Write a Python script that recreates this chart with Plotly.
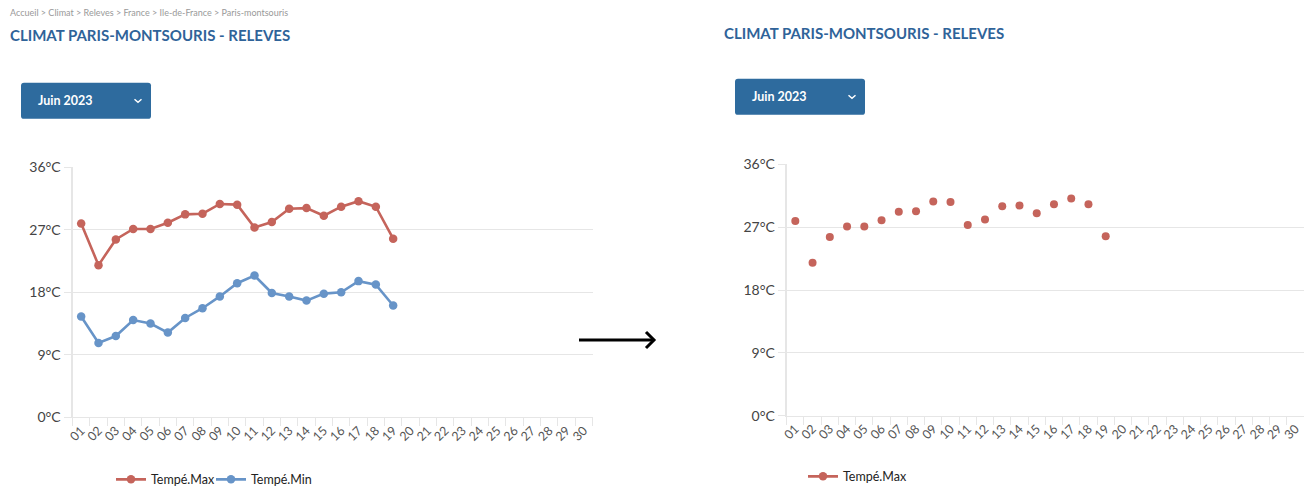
import plotly.graph_objects as go

# the page keeps the default 8px body margin; the photo crops the width and
# squeezes the full page height into the window, so positions below are
# window pixels mapped onto the figure's paper coordinates
WIN_W, WIN_H = 1312, 487
OFF = 8
FIG_W = WIN_W - OFF
SY = WIN_H / (WIN_H + 2 * OFF)

days = [f"{d:02d}" for d in range(1, 31)]
obs_days = days[:19]
t_max = [27.9, 21.9, 25.6, 27.1, 27.1, 28.0, 29.2, 29.3, 30.7, 30.6,
         27.3, 28.1, 30.0, 30.1, 29.0, 30.3, 31.1, 30.3, 25.7]
t_min = [14.5, 10.7, 11.7, 14.0, 13.5, 12.2, 14.3, 15.7, 17.4, 19.3,
         20.4, 17.9, 17.4, 16.8, 17.8, 18.0, 19.6, 19.1, 16.1]
y_ticks = [0, 9, 18, 27, 36]
y_labels = [f"{v}°C" for v in y_ticks]

RED = "#c5645b"
BLUE = "#6794c8"
DARK_BLUE = "#2f6399"
BTN = "#2e6b9e"
GRID = "#e6e6e6"
FONT = "Lato"


def px(x):
    return (x - OFF) / FIG_W


def py(y):
    return 1 - (y / SY - OFF) / WIN_H


def rounded(x0, y0, x1, y1, r=3):
    a, b, c, d = px(x0), py(y0), px(x1), py(y1)
    rx, ry = r / FIG_W, r / WIN_H
    return (f"M{a+rx},{b} L{c-rx},{b} Q{c},{b} {c},{b-ry} L{c},{d+ry} "
            f"Q{c},{d} {c-rx},{d} L{a+rx},{d} Q{a},{d} {a},{d+ry} "
            f"L{a},{b-ry} Q{a},{b} {a+rx},{b} Z")


fig = go.Figure()

# left panel : both series
fig.add_trace(go.Scatter(x=obs_days, y=t_max, name="Tempé.Max", mode="lines+markers",
                         line=dict(color=RED, width=2.6), marker=dict(size=8.5, color=RED),
                         xaxis="x", yaxis="y", legend="legend"))
fig.add_trace(go.Scatter(x=obs_days, y=t_min, name="Tempé.Min", mode="lines+markers",
                         line=dict(color=BLUE, width=2.6), marker=dict(size=8.5, color=BLUE),
                         xaxis="x", yaxis="y", legend="legend3"))

# right panel : max only, markers
fig.add_trace(go.Scatter(x=obs_days, y=t_max, name="Tempé.Max", mode="markers",
                         marker=dict(size=8, color=RED), showlegend=False,
                         xaxis="x2", yaxis="y2"))
fig.add_trace(go.Scatter(x=[None], y=[None], name="Tempé.Max", mode="lines+markers",
                         line=dict(color=RED, width=2.6), marker=dict(size=8.5, color=RED),
                         xaxis="x2", yaxis="y2", legend="legend2"))

xcommon = dict(type="category", categoryorder="array", categoryarray=days,
               range=[-0.5, 29.5], tickson="boundaries", ticks="outside", ticklen=8,
               tickcolor=GRID, showgrid=False, showline=True, linecolor=GRID, linewidth=1,
               tickangle=-45, tickfont=dict(family=FONT, size=12.5, color="#555"),
               fixedrange=True, zeroline=False, automargin=False)
ycommon = dict(range=[0, 36], tickvals=y_ticks, ticktext=y_labels, showgrid=True,
               gridcolor=GRID, ticks="outside", ticklen=7, tickcolor=GRID,
               showline=True, linecolor=GRID, linewidth=2, zeroline=False,
               tickfont=dict(family=FONT, size=14, color="#444"), fixedrange=True,
               automargin=False)

legend_font = dict(family=FONT, size=12.5, color="#222")

fig.update_layout(
    width=FIG_W, height=WIN_H,
    margin=dict(l=0, r=0, t=0, b=0),
    paper_bgcolor="white", plot_bgcolor="white",
    font=dict(family=FONT),
    xaxis=dict(domain=[px(72.5), px(592.5)], anchor="y", **xcommon),
    yaxis=dict(domain=[py(415), py(166)], anchor="x", **ycommon),
    xaxis2=dict(domain=[px(786.7), px(1304)], anchor="y2", **xcommon),
    yaxis2=dict(domain=[py(413.3), py(163.3)], anchor="x2", **ycommon),
    legend=dict(orientation="h", x=px(111), y=py(477), xanchor="left", yanchor="middle",
                font=legend_font, bgcolor="rgba(0,0,0,0)"),
    legend3=dict(orientation="h", x=px(211), y=py(477), xanchor="left", yanchor="middle",
                 font=legend_font, bgcolor="rgba(0,0,0,0)"),
    legend2=dict(orientation="h", x=px(803), y=py(474), xanchor="left", yanchor="middle",
                 font=legend_font, bgcolor="rgba(0,0,0,0)"),
    showlegend=True,
)

shapes = []
annotations = []

# breadcrumb, titles, month selectors
annotations.append(dict(text="Accueil > Climat > Releves > France > Ile-de-France > Paris-montsouris",
                        x=px(8), y=py(12), xref="paper", yref="paper", xanchor="left", yanchor="middle",
                        showarrow=False, font=dict(family=FONT, size=9, color="#999")))
for tx, ty in [(8, 35), (722, 33)]:
    annotations.append(dict(text="<b>CLIMAT PARIS-MONTSOURIS - RELEVES</b>",
                            x=px(tx), y=py(ty), xref="paper", yref="paper",
                            xanchor="left", yanchor="middle", showarrow=False,
                            font=dict(family=FONT, size=15, color=DARK_BLUE)))

for bx0, by0, bx1, by1 in [(21, 82, 151, 118), (735, 78, 865, 114)]:
    shapes.append(dict(type="path", path=rounded(bx0, by0, bx1, by1), xref="paper", yref="paper",
                       fillcolor=BTN, line=dict(width=0)))
    cy = (by0 + by1) / 2
    annotations.append(dict(text="<b>Juin 2023</b>", x=px(bx0 + 15), y=py(cy), xref="paper", yref="paper",
                            xanchor="left", yanchor="middle", showarrow=False,
                            font=dict(family=FONT, size=12.5, color="white")))
    cx = bx1 - 13
    shapes.append(dict(type="path", xref="paper", yref="paper",
                       path=f"M{px(cx-3.5)},{py(cy-1.5)} L{px(cx)},{py(cy+1.5)} L{px(cx+3.5)},{py(cy-1.5)}",
                       line=dict(color="white", width=1.5)))

# arrow between the two panels
shapes.append(dict(type="line", xref="paper", yref="paper", x0=px(579), y0=py(338), x1=px(654), y1=py(338),
                   line=dict(color="black", width=3)))
shapes.append(dict(type="path", xref="paper", yref="paper",
                   path=f"M{px(646)},{py(330)} L{px(654)},{py(338)} L{px(646)},{py(346)}",
                   line=dict(color="black", width=3)))

fig.update_layout(shapes=shapes, annotations=annotations)

fig.write_html("out.html")
